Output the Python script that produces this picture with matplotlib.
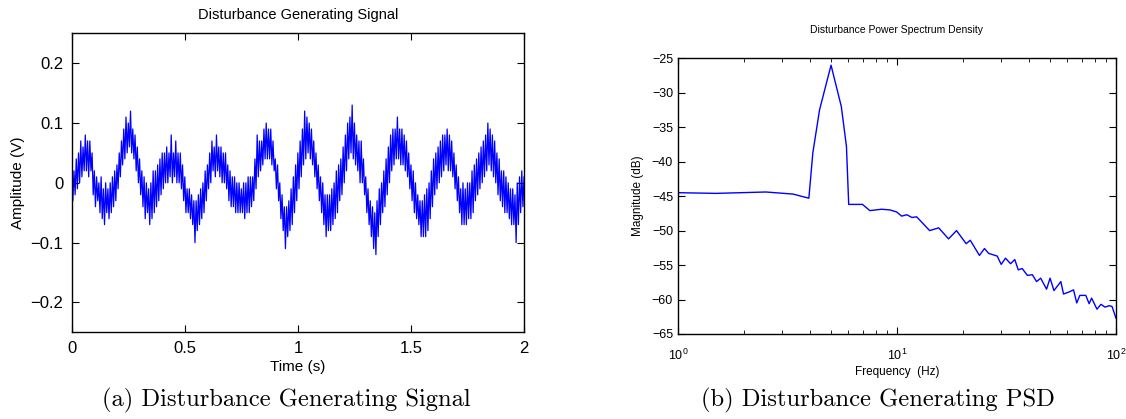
import numpy as np
import matplotlib
matplotlib.use("Agg")
import matplotlib.pyplot as plt

sig_dt = 0.005
sig_v = [
    0.03, -0.03, 0.02, -0.02, 0.04, -0.01, 0.05, 0.00, 0.07, 0.01, 0.06, 0.02, 0.08, 0.02, 0.07, 0.01, 0.07, 0.02, 0.05, -0.02,
    0.02, -0.04, 0.01, -0.03, 0.00, -0.05, 0.01, -0.06, -0.01, -0.07, 0.00, -0.05, -0.01, -0.06, 0.00, -0.05, 0.01, -0.04, 0.02, -0.03,
    0.03, -0.01, 0.05, 0.01, 0.07, 0.03, 0.09, 0.04, 0.11, 0.05, 0.10, 0.06, 0.12, 0.05, 0.09, 0.04, 0.08, 0.02, 0.06, 0.00,
    0.04, -0.02, 0.02, -0.04, 0.01, -0.06, 0.00, -0.05, -0.01, -0.07, 0.00, -0.06, 0.02, -0.05, 0.02, -0.04, 0.03, -0.03, 0.04, -0.02,
    0.05, -0.01, 0.05, 0.00, 0.06, 0.00, 0.05, 0.01, 0.08, 0.00, 0.05, 0.01, 0.07, 0.00, 0.05, 0.00, 0.05, -0.01, 0.03, -0.03,
    0.01, -0.05, -0.01, -0.05, -0.01, -0.06, -0.02, -0.07, -0.03, -0.10, -0.03, -0.08, -0.02, -0.07, -0.01, -0.06, 0.00, -0.05, 0.02, -0.03,
    0.03, -0.01, 0.05, 0.00, 0.07, 0.02, 0.06, 0.01, 0.08, 0.02, 0.06, 0.01, 0.06, 0.00, 0.05, 0.00, 0.05, -0.01, 0.03, -0.03,
    0.02, -0.04, 0.01, -0.04, 0.01, -0.05, 0.00, -0.05, 0.00, -0.05, -0.01, -0.05, 0.00, -0.06, 0.00, -0.05, 0.01, -0.05, 0.01, -0.04,
    0.01, -0.03, 0.04, -0.01, 0.08, 0.01, 0.07, 0.02, 0.07, 0.03, 0.09, 0.04, 0.10, 0.04, 0.09, 0.04, 0.09, 0.03, 0.07, 0.02,
    0.04, -0.01, 0.03, -0.03, 0.00, -0.06, -0.02, -0.08, -0.04, -0.11, -0.04, -0.09, -0.03, -0.08, -0.01, -0.07, 0.01, -0.05, 0.03, -0.03,
    0.05, -0.01, 0.07, 0.01, 0.09, 0.03, 0.12, 0.04, 0.11, 0.05, 0.10, 0.04, 0.09, 0.03, 0.07, 0.01, 0.05, -0.01, 0.03, -0.03,
    0.01, -0.05, 0.00, -0.07, -0.02, -0.09, -0.02, -0.08, -0.02, -0.08, -0.01, -0.07, 0.00, -0.06, 0.02, -0.05, 0.03, -0.03, 0.04, -0.02,
    0.06, 0.00, 0.08, 0.02, 0.10, 0.04, 0.11, 0.05, 0.13, 0.04, 0.10, 0.03, 0.08, 0.02, 0.07, 0.00, 0.07, 0.00, 0.04, -0.02,
    0.01, -0.05, -0.01, -0.07, -0.03, -0.09, -0.04, -0.11, -0.05, -0.12, -0.03, -0.09, -0.01, -0.07, 0.00, -0.05, 0.02, -0.04, 0.04, -0.02,
    0.06, 0.00, 0.08, 0.02, 0.09, 0.03, 0.09, 0.04, 0.11, 0.04, 0.09, 0.03, 0.09, 0.03, 0.08, 0.02, 0.07, 0.01, 0.05, -0.01,
    0.03, -0.03, 0.02, -0.05, 0.00, -0.06, -0.02, -0.07, -0.03, -0.09, -0.03, -0.09, -0.02, -0.09, -0.01, -0.08, 0.00, -0.06, 0.02, -0.04,
    0.04, -0.02, 0.05, -0.01, 0.06, 0.00, 0.07, 0.01, 0.08, 0.02, 0.08, 0.03, 0.09, 0.02, 0.08, 0.02, 0.07, 0.01, 0.05, -0.01,
    0.03, -0.03, 0.01, -0.05, -0.01, -0.07, 0.00, -0.07, -0.01, -0.07, 0.00, -0.06, 0.00, -0.06, 0.02, -0.05, 0.03, -0.03, 0.04, -0.02,
    0.05, -0.01, 0.06, 0.00, 0.07, 0.01, 0.08, 0.02, 0.10, 0.03, 0.09, 0.02, 0.08, 0.01, 0.07, 0.00, 0.05, -0.02, 0.04, -0.03,
    0.02, -0.04, 0.02, -0.05, 0.01, -0.05, 0.00, -0.06, -0.01, -0.07, -0.01, -0.07, -0.02, -0.10, 0.00, -0.07, 0.01, -0.05, 0.02, -0.04,
    0.01,
]

# PSD (frequency in Hz, magnitude in dB)
psd_f = [1.0, 1.49, 2.52, 3.35, 3.96, 4.13, 4.43, 5.0, 5.57, 5.88, 6.02,
         6.96, 7.52, 8.51, 9.29, 9.97, 10.5, 11.1, 11.7, 12.3, 14.1, 15.5,
         17.2, 18.7, 20.7, 21.6, 23.8, 25.1, 26.2, 28.7, 29.9, 31.3, 33.0,
         34.5, 35.8, 37.3, 39.4, 41.5, 43.4, 45.3, 48.2, 50.0, 52.1, 56.0,
         57.6, 61.1, 64.0, 66.2, 68.4, 72.8, 75.4, 77.4, 81.9, 85.4, 89.1,
         93.2, 95.9, 100.0]
psd_db = [-44.5, -44.6, -44.4, -44.7, -45.3, -38.7, -32.5, -26.0, -32.0,
          -37.8, -46.2, -46.2, -47.1, -46.9, -47.0, -47.3, -47.9, -47.7,
          -48.1, -48.0, -50.0, -49.6, -51.2, -50.0, -51.9, -51.4, -53.6,
          -52.6, -53.3, -53.7, -54.9, -54.0, -54.8, -54.2, -55.7, -55.5,
          -56.5, -56.4, -57.4, -56.9, -58.5, -56.9, -58.7, -57.4, -59.2,
          -58.9, -58.6, -60.5, -59.4, -59.4, -60.6, -59.8, -61.4, -60.7,
          -61.1, -60.9, -61.0, -62.7]

plt.rcParams['font.family'] = ['Liberation Sans', 'DejaVu Sans']

fig = plt.figure(figsize=(11.26, 4.19), dpi=100)

# left: time signal
ax1 = fig.add_axes([0.0637, 0.2069, 0.4017, 0.7136])
t = np.arange(len(sig_v)) * sig_dt
ax1.plot(t, sig_v, color='#0000ff', linewidth=0.9)
ax1.set_xlim(0, 2)
ax1.set_ylim(-0.25, 0.25)
ax1.set_xticks([0, 0.5, 1, 1.5, 2])
ax1.set_xticklabels(['0', '0.5', '1', '1.5', '2'])
ax1.set_yticks([-0.2, -0.1, 0, 0.1, 0.2])
ax1.set_yticklabels(['\u22120.2', '\u22120.1', '0', '0.1', '0.2'])
ax1.tick_params(direction='in', top=True, right=True, labelsize=12, length=5, pad=6)
ax1.set_title('Disturbance Generating Signal', fontsize=10.5, pad=10)
ax1.set_xlabel('Time (s)', fontsize=11, labelpad=3)
ax1.set_ylabel('Amplitude (V)', fontsize=11, labelpad=4)

# right: PSD
ax2 = fig.add_axes([0.6021, 0.2029, 0.389, 0.658])
ax2.semilogx(psd_f, psd_db, color='#0000ff', linewidth=1.0)
ax2.set_xlim(1, 100)
ax2.set_ylim(-65, -25)
ax2.set_yticks(np.arange(-65, -24, 5))
ax2.set_yticklabels(['\u2212%d' % v for v in range(65, 24, -5)])
ax2.tick_params(which='both', direction='in', top=True, right=True, labelsize=9)
ax2.tick_params(which='major', length=5)
ax2.tick_params(which='minor', length=3)
ax2.tick_params(axis='x', pad=10)
ax2.set_title('Disturbance Power Spectrum Density', fontsize=7.5, pad=18)
ax2.set_xlabel('Frequency  (Hz)', fontsize=8.5, labelpad=2)
ax2.set_ylabel('Magnitude (dB)', fontsize=8.5, labelpad=6)

for ax in (ax1, ax2):
    for s in ax.spines.values():
        s.set_linewidth(1.0)

# sub-figure captions
fig.text(0.254, 0.045, '(a) Disturbance Generating Signal', family='cmr10',
         fontsize=17.7, ha='center', va='center')
fig.text(0.780, 0.045, '(b) Disturbance Generating PSD', family='cmr10',
         fontsize=17.7, ha='center', va='center')

fig.savefig('out.png', dpi=100)
